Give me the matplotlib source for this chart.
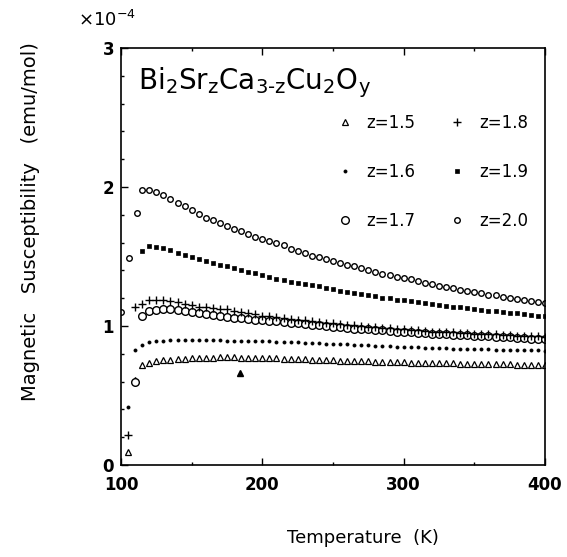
import numpy as np
import matplotlib
matplotlib.use("Agg")
import matplotlib.pyplot as plt
from matplotlib.ticker import MultipleLocator

plt.rcParams["font.family"] = ["DejaVu Sans"]
plt.rcParams["mathtext.default"] = "regular"

# temperature grid of the plateau part (K)
T = list(range(115, 401, 5))

# susceptibility values (x 1e-4 emu/mol)
chi_15 = [0.720, 0.735, 0.745, 0.752, 0.757, 0.762, 0.765, 0.768, 0.770, 0.772,
          0.773, 0.774, 0.774, 0.774, 0.773, 0.772, 0.771, 0.770, 0.769, 0.768,
          0.766, 0.764, 0.762, 0.760, 0.758, 0.756, 0.755, 0.753, 0.751, 0.750,
          0.748, 0.747, 0.745, 0.744, 0.742, 0.741, 0.740, 0.738, 0.737, 0.736,
          0.735, 0.734, 0.733, 0.732, 0.731, 0.730, 0.729, 0.728, 0.727, 0.726,
          0.725, 0.724, 0.723, 0.722, 0.721, 0.720, 0.720, 0.719]
chi_16 = [0.865, 0.885, 0.893, 0.895, 0.897, 0.897, 0.898, 0.898, 0.898, 0.897,
          0.897, 0.896, 0.895, 0.895, 0.894, 0.893, 0.892, 0.890, 0.890, 0.888,
          0.886, 0.884, 0.882, 0.880, 0.878, 0.876, 0.873, 0.871, 0.869, 0.867,
          0.864, 0.862, 0.860, 0.858, 0.856, 0.854, 0.852, 0.850, 0.848, 0.847,
          0.845, 0.843, 0.841, 0.840, 0.838, 0.837, 0.835, 0.834, 0.832, 0.831,
          0.830, 0.829, 0.828, 0.827, 0.826, 0.825, 0.824, 0.823]
chi_17 = [1.070, 1.110, 1.115, 1.120, 1.120, 1.115, 1.110, 1.100, 1.095, 1.086,
          1.080, 1.070, 1.065, 1.060, 1.055, 1.048, 1.043, 1.040, 1.038, 1.035,
          1.030, 1.025, 1.020, 1.015, 1.010, 1.005, 1.000, 0.995, 0.990, 0.985,
          0.980, 0.978, 0.975, 0.970, 0.968, 0.965, 0.960, 0.958, 0.955, 0.950,
          0.948, 0.945, 0.943, 0.940, 0.938, 0.935, 0.933, 0.930, 0.928, 0.925,
          0.923, 0.920, 0.918, 0.915, 0.913, 0.910, 0.908, 0.905]
chi_18 = [1.160, 1.185, 1.190, 1.185, 1.180, 1.170, 1.160, 1.150, 1.140, 1.135,
          1.130, 1.125, 1.120, 1.110, 1.100, 1.090, 1.085, 1.075, 1.070, 1.065,
          1.055, 1.050, 1.045, 1.040, 1.035, 1.030, 1.025, 1.020, 1.015, 1.010,
          1.005, 1.000, 0.995, 0.990, 0.985, 0.985, 0.980, 0.975, 0.970, 0.970,
          0.965, 0.960, 0.960, 0.955, 0.955, 0.950, 0.950, 0.945, 0.945, 0.940,
          0.940, 0.935, 0.935, 0.930, 0.930, 0.925, 0.925, 0.920]
chi_19 = [1.540, 1.575, 1.570, 1.560, 1.545, 1.525, 1.510, 1.495, 1.480, 1.465,
          1.450, 1.440, 1.430, 1.420, 1.405, 1.390, 1.380, 1.365, 1.350, 1.340,
          1.330, 1.320, 1.310, 1.305, 1.295, 1.285, 1.275, 1.265, 1.255, 1.245,
          1.235, 1.230, 1.220, 1.215, 1.205, 1.200, 1.190, 1.185, 1.180, 1.170,
          1.165, 1.160, 1.150, 1.145, 1.140, 1.135, 1.130, 1.120, 1.115, 1.110,
          1.105, 1.100, 1.095, 1.090, 1.085, 1.080, 1.075, 1.070]
chi_20 = [1.980, 1.980, 1.965, 1.940, 1.915, 1.885, 1.860, 1.835, 1.805, 1.780,
          1.765, 1.740, 1.720, 1.700, 1.680, 1.660, 1.640, 1.625, 1.610, 1.595,
          1.580, 1.555, 1.540, 1.525, 1.505, 1.495, 1.480, 1.470, 1.455, 1.440,
          1.430, 1.415, 1.400, 1.390, 1.375, 1.365, 1.355, 1.345, 1.335, 1.325,
          1.310, 1.300, 1.290, 1.280, 1.270, 1.260, 1.255, 1.245, 1.235, 1.225,
          1.220, 1.210, 1.200, 1.195, 1.185, 1.180, 1.170, 1.165]

# points below the transition
low_T_15 = [105, 110]
low_chi_15 = [0.096, 0.61]
low_T_16 = [105, 110]
low_chi_16 = [0.415, 0.83]
low_T_17 = [110]
low_chi_17 = [0.60]
low_T_18 = [105, 110]
low_chi_18 = [0.216, 1.14]
low_T_20 = [100, 106, 111]
low_chi_20 = [1.10, 1.49, 1.81]
stray_T = [184]
stray_chi = [0.66]

labels = ["z=1.5", "z=1.6", "z=1.7", "z=1.8", "z=1.9", "z=2.0"]

fig = plt.figure(figsize=(5.67, 5.57), dpi=100)
ax = fig.add_axes([0.2134, 0.1652, 0.7478, 0.7486])

k = dict(color="black", linestyle="none")
ax.plot(low_T_15 + T, low_chi_15 + chi_15, marker="^", ms=4.5, mfc="white", mew=0.9, **k)
ax.plot(low_T_16 + T, low_chi_16 + chi_16, marker="o", ms=2.2, mfc="black", mew=0.6, **k)
ax.plot(low_T_17 + T, low_chi_17 + chi_17, marker="o", ms=5.5, mfc="white", mew=1.0, **k)
ax.plot(low_T_18 + T, low_chi_18 + chi_18, marker="+", ms=6, mew=1.0, **k)
ax.plot(T, chi_19, marker="s", ms=2.6, mfc="black", mew=0.5, **k)
ax.plot(low_T_20 + T, low_chi_20 + chi_20, marker="o", ms=4, mfc="white", mew=1.0, **k)
ax.plot(stray_T, stray_chi, marker="^", ms=4, mfc="black", **k)

ax.set_xlim(100, 400)
ax.set_ylim(0, 3)
ax.xaxis.set_major_locator(MultipleLocator(100))
ax.xaxis.set_minor_locator(MultipleLocator(50))
ax.yaxis.set_major_locator(MultipleLocator(1))
ax.yaxis.set_minor_locator(MultipleLocator(0.2))
ax.tick_params(which="both", direction="in", top=True, right=False, width=1)
ax.tick_params(which="major", length=5, labelsize=12)
ax.tick_params(axis="x", which="major", pad=8)
ax.tick_params(axis="y", which="major", pad=5)
ax.tick_params(which="minor", length=2.5)
for lab in ax.get_xticklabels() + ax.get_yticklabels():
    lab.set_fontweight("bold")
for s in ax.spines.values():
    s.set_linewidth(1.2)

ax.set_xlabel("Temperature  (K)", fontsize=13)
ax.xaxis.set_label_coords(0.57, -0.153)
ax.set_ylabel("Magnetic   Susceptibility   (emu/mol)", fontsize=14)
ax.yaxis.set_label_coords(-0.19, 0.583)

fig.text(0.138, 0.964, r"$\times$10$^{-4}$", fontsize=13, ha="left", va="center")
ax.text(0.04, 0.918, r"Bi$_2$Sr$_z$Ca$_{3\text{-}z}$Cu$_2$O$_y$", transform=ax.transAxes,
        fontsize=20, ha="left", va="center")

# legend in two columns
handles = ax.get_lines()[:6]
leg = ax.legend(handles, labels, ncol=2, loc="upper left", bbox_to_anchor=(0.512, 0.842),
                frameon=False, fontsize=12, handlelength=0.8, handletextpad=0.9,
                columnspacing=2.1, labelspacing=1.86, borderpad=0, borderaxespad=0)

fig.savefig("out.png", dpi=100)
